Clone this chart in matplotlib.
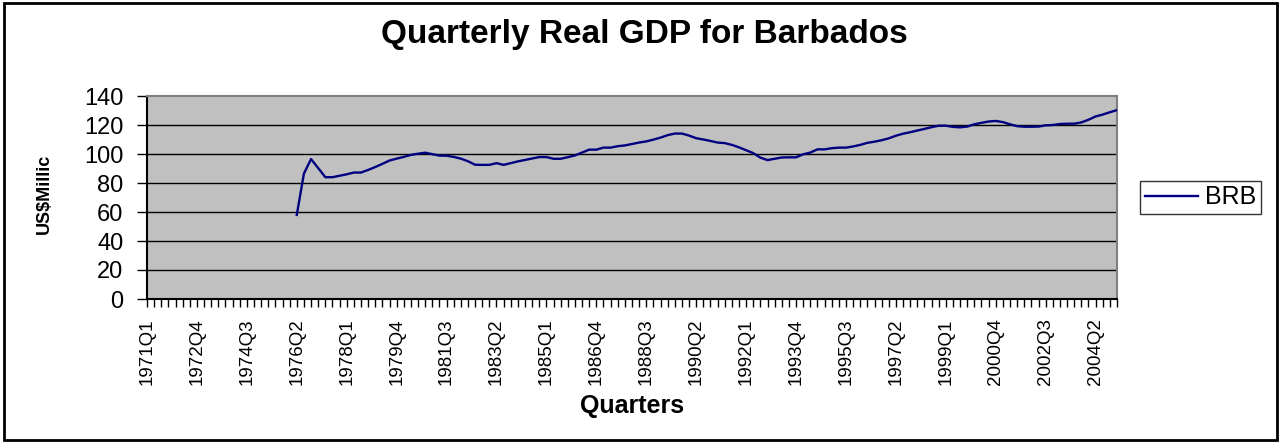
import matplotlib
matplotlib.use("Agg")
import matplotlib.pyplot as plt
from matplotlib.patches import Rectangle

plt.rcParams['font.family'] = ['Liberation Sans', 'DejaVu Sans']

# categories 1971Q1 .. 2005Q1
quarters = [str(y) + "Q" + str(q) for y in range(1971, 2006) for q in range(1, 5)][:137]
start = quarters.index("1976Q2")

# real GDP, US$ millions (1976Q2 .. 2005Q1)
brb = [58, 86.5, 96.5, 90.3, 84, 84, 85, 86, 87.2, 87.2,
       89, 91, 93.2, 95.5, 96.8, 98, 99.4, 100.2, 100.9, 99.9,
       98.9, 98.8, 98, 96.8, 95, 92.6, 92.5, 92.5, 93.7, 92.5,
       93.7, 94.9, 95.9, 96.9, 97.9, 97.9, 96.7, 96.7, 97.8, 99,
       101, 103, 103, 104.4, 104.4, 105.4, 105.9, 106.9, 107.9, 108.7,
       109.9, 111.3, 113, 114.1, 114.1, 112.7, 110.9, 110, 109, 107.9,
       107.5, 106.3, 104.6, 102.6, 100.6, 97.5, 95.8, 96.7, 97.6, 97.7,
       97.7, 99.8, 101, 103.2, 103.2, 104, 104.4, 104.4, 105.2, 106.3,
       107.7, 108.5, 109.5, 110.8, 112.6, 114, 115, 116.2, 117.3, 118.5,
       119.5, 119.5, 118.7, 118.4, 118.9, 120.5, 121.5, 122.4, 122.8, 122,
       120.5, 119.2, 118.8, 118.8, 118.9, 119.8, 120, 120.7, 120.9, 120.9,
       121.8, 123.6, 125.9, 127.2, 128.8, 130.3]

yticks = [0, 20, 40, 60, 80, 100, 120, 140]

fig = plt.figure(figsize=(12.79, 4.42), dpi=100)
ax = fig.add_axes([147/1279, 1-299/442, 970/1279, 203/442])
ax.set_facecolor('#c0c0c0')

x = list(range(start, start + len(brb)))
ax.plot(x, brb, color='#000080', lw=1.7, label='BRB', zorder=3)

ax.set_xlim(0, len(quarters) - 1)
ax.set_ylim(0, 140)
ax.set_yticks(yticks)
for v in yticks[1:-1]:
    ax.axhline(v, color='black', lw=1, zorder=1)

ax.set_xticks(range(len(quarters)))
ax.set_xticklabels([q if i % 7 == 0 else "" for i, q in enumerate(quarters)],
                   rotation=90, fontsize=13.5)
ax.tick_params(axis='x', length=6, width=1, pad=8)
ax.tick_params(axis='y', length=7, width=1, labelsize=17, pad=10)

ax.spines['left'].set_linewidth(1.5)
ax.spines['bottom'].set_linewidth(1.5)
ax.spines['top'].set_color('#808080')
ax.spines['right'].set_color('#808080')
ax.spines['top'].set_linewidth(1.5)
ax.spines['right'].set_linewidth(1.5)

fig.text(644/1279, 1-35/442, "Quarterly Real GDP for Barbados",
         ha='center', va='center', fontsize=24, fontweight='bold')
fig.text(44/1279, 1-194/442, "US\\$Millic", rotation=90,
         ha='center', va='center', fontsize=13, fontweight='bold')
fig.text(632/1279, 1-406/442, "Quarters",
         ha='center', va='center', fontsize=18, fontweight='bold')

leg = fig.legend(loc='center left', bbox_to_anchor=(1140/1279, 1-197.5/442),
                 fontsize=18, frameon=True, fancybox=False, handlelength=2.1,
                 borderpad=0.2, handletextpad=0.3, borderaxespad=0)
leg.get_frame().set_edgecolor('black')
leg.get_frame().set_linewidth(1)

fig.add_artist(Rectangle((4/1279, 1-439.5/442), 1273/1279, 437/442,
                         transform=fig.transFigure, fill=False,
                         edgecolor='black', lw=2))

fig.savefig("out.png", dpi=100)
